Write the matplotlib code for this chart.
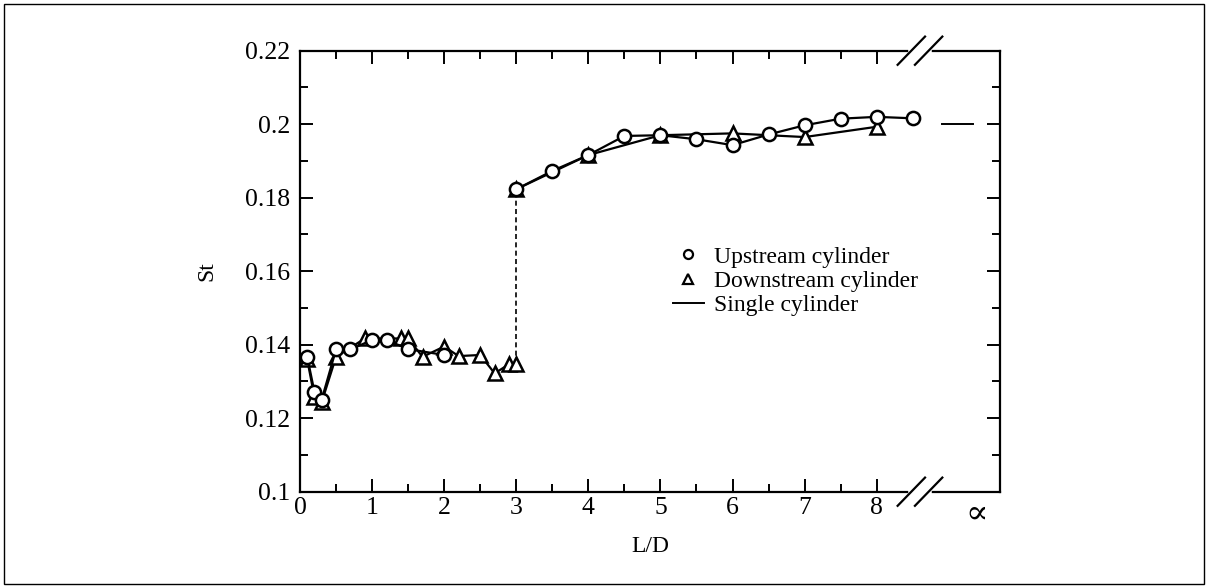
import matplotlib.pyplot as plt
from matplotlib.lines import Line2D
from matplotlib.patches import Rectangle
from matplotlib.transforms import blended_transform_factory

plt.rcParams['font.family'] = ['Liberation Serif', 'DejaVu Serif']

# Strouhal number vs. spacing ratio, two tandem cylinders
up_ld_low = [0.1, 0.2, 0.3, 0.5, 0.7, 1.0, 1.2, 1.5, 2.0]
up_st_low = [0.1367, 0.1272, 0.1250, 0.1387, 0.1387, 0.1413, 0.1413, 0.1388, 0.1372]
up_ld_high = [3.0, 3.5, 4.0, 4.5, 5.0, 5.5, 6.0, 6.5, 7.0, 7.5, 8.0, 8.5]
up_st_high = [0.1823, 0.1873, 0.1916, 0.1968, 0.1970, 0.1959, 0.1943, 0.1972, 0.1997, 0.2015, 0.2020, 0.2016]

down_ld_low = [0.1, 0.2, 0.3, 0.5, 0.9, 1.4, 1.5, 1.7, 2.0, 2.2, 2.5, 2.7, 2.9, 3.0]
down_st_low = [0.1360, 0.1258, 0.1243, 0.1367, 0.1417, 0.1417, 0.1417, 0.1367, 0.1395, 0.1369, 0.1372, 0.1322, 0.1347, 0.1347]
down_ld_high = [3.0, 4.0, 5.0, 6.0, 7.0, 8.0]
down_st_high = [0.1823, 0.1916, 0.1970, 0.1975, 0.1965, 0.1993]

single_st = 0.2
x_inf = 9.12          # where the L/D = infinity column sits on the axis
x_break = (8.48, 8.72)

fig = plt.figure(figsize=(12.08, 5.88), dpi=100)
ax = fig.add_axes([0.24834, 0.16378, 0.57947, 0.75])

mk = dict(color='black', lw=1.6, mfc='white', mec='black', mew=1.8)
ax.plot(down_ld_low, down_st_low, marker='^', ms=10, **mk)
ax.plot(down_ld_high, down_st_high, marker='^', ms=10, **mk)
ax.plot(up_ld_low, up_st_low, marker='o', ms=9.5, **mk)
ax.plot(up_ld_high, up_st_high, marker='o', ms=9.5, **mk)
# jump of the downstream cylinder
ax.plot([down_ld_low[-1], down_ld_high[0]], [down_st_low[-1], down_st_high[0]],
        color='black', lw=1.2, ls=(0, (3, 2)), zorder=1)
# single cylinder value at L/D -> infinity
ax.plot([x_inf - 0.21, x_inf + 0.21], [single_st, single_st], color='black', lw=1.4)

ax.set_xlim(0, 9.71)
ax.set_ylim(0.1, 0.22)
ax.set_xticks(range(9))
ax.set_xticks([i + 0.5 for i in range(8)], minor=True)
ax.set_yticks([0.1, 0.12, 0.14, 0.16, 0.18, 0.2, 0.22])
ax.set_yticklabels(['0.1', '0.12', '0.14', '0.16', '0.18', '0.2', '0.22'])
ax.set_yticks([0.11, 0.13, 0.15, 0.17, 0.19, 0.21], minor=True)
ax.tick_params(which='both', direction='in', top=True, right=True, width=1.4, labelsize=18.5)
ax.tick_params(which='major', length=9.5)
ax.tick_params(which='minor', length=5.8)
ax.tick_params(axis='x', pad=4)
ax.tick_params(axis='y', pad=7)
for s in ax.spines.values():
    s.set_linewidth(1.6)

# axis break marks on top and bottom
tr = blended_transform_factory(ax.transData, ax.transAxes)
for yy in (0, 1):
    ax.plot(x_break, [yy, yy], color='white', lw=4, transform=tr, clip_on=False, zorder=5)
    for xb in x_break:
        ax.plot([xb - 0.19, xb + 0.19], [yy - 0.032, yy + 0.032], color='black', lw=1.6,
                transform=tr, clip_on=False, zorder=6)

ax.text(9.385, -0.052, '\u221d', transform=tr, ha='center', va='center', fontsize=24)

ax.set_xlabel('L/D', fontsize=17, labelpad=12)
ax.set_ylabel('St', fontsize=17, labelpad=20)

handles = [
    Line2D([], [], ls='none', marker='o', ms=6.5, mfc='white', mec='black', mew=1.6),
    Line2D([], [], ls='none', marker='^', ms=6.5, mfc='white', mec='black', mew=1.6),
    Line2D([], [], color='black', lw=1.4),
]
ax.legend(handles, ['Upstream cylinder', 'Downstream cylinder', 'Single cylinder'],
          loc='upper left', bbox_to_anchor=(673 / 1208, 1 - 246 / 588),
          bbox_transform=fig.transFigure, frameon=False, fontsize=17,
          handlelength=1.3, handletextpad=0.45, labelspacing=0.12,
          borderpad=0, borderaxespad=0)

fig.patches.append(Rectangle((4 / 1208, 4 / 588), 1200 / 1208, 580 / 588, fill=False,
                             ec='black', lw=1, transform=fig.transFigure))

fig.savefig('out.png', dpi=100)
